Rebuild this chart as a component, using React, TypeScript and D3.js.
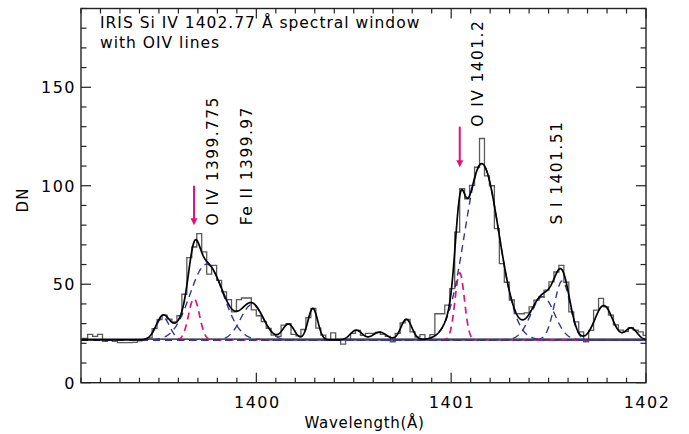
import React from 'react';
import * as d3 from 'd3';

const W = 689;
const H = 434;
const M = { left: 81, right: 646, top: 8.5, bottom: 382.7 };

const X_DOMAIN: [number, number] = [1399.1, 1402];
const Y_DOMAIN: [number, number] = [0, 190];
const X_MAJOR = [1400, 1401, 1402];
const Y_MAJOR = [0, 50, 100, 150];
const X_MINOR_STEP = 0.1;
const Y_MINOR_STEP = 10;

// observed spectrum (DN per spectral pixel)
const BIN_START = 1399.0832;
const BIN_WIDTH = 0.02546;
const counts = [
  22, 22.5, 24.5, 23.5, 24.5, 21, 21.5, 21, 20.3, 20.3,
  20.3, 20.5, 21.3, 21.8, 22.8, 27.5, 32, 34.3, 32.3, 30.9,
  34, 44.9, 63.5, 68.9, 75.7, 66.4, 55.1, 59.6, 52, 46.1,
  42.2, 36, 42.2, 43, 43, 37, 34, 31, 27.6, 24.2,
  23.5, 29.2, 30, 24.5, 23.8, 27, 33, 37.7, 27.7, 24.2,
  21.8, 25.3, 22, 19.6, 22, 25, 26.5, 24, 25, 25,
  25.5, 24.5, 23.5, 20.8, 25, 30.4, 32.1, 25.8, 23.2, 24.4,
  22.2, 24.4, 35, 35, 39.4, 47.8, 76.5, 98.5, 93.4, 100.2,
  109.4, 124, 105, 100, 78.2, 60.5, 51, 42, 35.1, 35,
  35.5, 38.5, 41.9, 43.6, 47, 51.2, 56.2, 59.6, 51, 36,
  30.9, 25.8, 20.8, 26.6, 36.8, 42.8, 38.5, 34.3, 29.4, 26.7,
  26, 28, 26.7, 25.8, 24,
];

// Gaussian fit
const BASELINE = 21.7;
const compCenter = [1399.52, 1399.68, 1399.745, 1399.978, 1400.165, 1400.29, 1400.513, 1400.633, 1400.77, 1401.044, 1401.157, 1401.47, 1401.57, 1401.783, 1401.924];
const compAmp = [11.5, 21, 38.5, 18, 8, 16, 5, 4, 10.5, 34, 89.5, 22, 30, 17.5, 6];
const compSigma = [0.035, 0.028, 0.085, 0.058, 0.03, 0.025, 0.03, 0.035, 0.028, 0.024, 0.088, 0.06, 0.04, 0.045, 0.03];
const compKind = ['navy', 'magenta', 'navy', 'navy', '', '', '', '', '', 'magenta', 'navy', 'navy', 'navy', '', ''];

// annotations
const lineLabels = ['O IV 1399.775', 'Fe II 1399.97', 'O IV 1401.2', 'S I 1401.51'];
const lineLabelWl = [1399.803, 1399.976, 1401.161, 1401.571];
const lineLabelDN = [79.8, 80, 130, 80.3];
const arrowWl = [1399.68, 1401.044];
const arrowTop = [100, 130];
const arrowTip = [79.9, 109.4];

const TITLE = ['IRIS Si IV 1402.77 Å spectral window', 'with OIV lines'];

const NAVY = '#34349a';
const MAGENTA = '#e0127f';
const FONT = 'DejaVu Sans, sans-serif';

export default function App() {
  const x = d3.scaleLinear().domain(X_DOMAIN).range([M.left, M.right]);
  const y = d3.scaleLinear().domain(Y_DOMAIN).range([M.bottom, M.top]);

  // histogram step path
  let hist = '';
  counts.forEach((c, i) => {
    const x0 = x(BIN_START + i * BIN_WIDTH);
    const x1 = x(BIN_START + (i + 1) * BIN_WIDTH);
    hist += (i === 0 ? `M${x0},${y(c)}` : `L${x0},${y(c)}`) + `L${x1},${y(c)}`;
  });

  const grid = d3.range(X_DOMAIN[0], X_DOMAIN[1] + 1e-9, 0.002);
  const gauss = (k: number, w: number) =>
    compAmp[k] * Math.exp(-((w - compCenter[k]) ** 2) / (2 * compSigma[k] ** 2));
  const fitVal = (w: number) => BASELINE + compCenter.reduce((s, _c, k) => s + gauss(k, w), 0);

  const line = d3.line<[number, number]>().x((d) => x(d[0])).y((d) => y(d[1]));
  const fitPath = line(grid.map((w) => [w, fitVal(w)]));
  const comps = compKind
    .map((kind, k) => ({ kind, k }))
    .filter((d) => d.kind !== '');

  const xMinor = d3.range(X_DOMAIN[0], X_DOMAIN[1] + 1e-6, X_MINOR_STEP);
  const yMinor = d3.range(Y_DOMAIN[0], Y_DOMAIN[1] + 1e-6, Y_MINOR_STEP);
  const isMajorX = (v: number) => X_MAJOR.some((m) => Math.abs(m - v) < 1e-6);
  const isMajorY = (v: number) => Y_MAJOR.some((m) => Math.abs(m - v) < 1e-6);

  const axisColor = '#222';

  return (
    <svg width={W} height={H} style={{ position: 'absolute', left: 0, top: 0, background: '#fff' }} fontFamily={FONT}>
      <defs>
        <clipPath id="plot">
          <rect x={M.left} y={M.top} width={M.right - M.left} height={M.bottom - M.top} />
        </clipPath>
      </defs>
      <g clipPath="url(#plot)">
        <path d={hist} fill="none" stroke="#5a5a5a" strokeWidth={1.3} />
        <line x1={M.left} x2={M.right} y1={y(BASELINE + 0.4)} y2={y(BASELINE + 0.4)} stroke="#111" strokeWidth={1.4} />
        {comps.map(({ kind, k }) => (
          <path
            key={k}
            d={line(grid.map((w) => [w, BASELINE + gauss(k, w)])) || ''}
            fill="none"
            stroke={kind === 'navy' ? NAVY : MAGENTA}
            strokeWidth={kind === 'navy' ? 1.4 : 1.7}
            strokeDasharray="7,5"
          />
        ))}
        <path d={fitPath || ''} fill="none" stroke="#000" strokeWidth={1.7} />
      </g>

      {/* frame */}
      <rect x={M.left} y={M.top} width={M.right - M.left} height={M.bottom - M.top} fill="none" stroke={axisColor} strokeWidth={1.4} />
      {xMinor.map((v, i) => {
        const len = isMajorX(v) ? 10 : 5;
        return (
          <g key={'xt' + i}>
            <line x1={x(v)} x2={x(v)} y1={M.bottom} y2={M.bottom - len} stroke={axisColor} strokeWidth={1.2} />
            <line x1={x(v)} x2={x(v)} y1={M.top} y2={M.top + len} stroke={axisColor} strokeWidth={1.2} />
          </g>
        );
      })}
      {yMinor.map((v, i) => {
        const len = isMajorY(v) ? 10 : 5.5;
        return (
          <g key={'yt' + i}>
            <line x1={M.left} x2={M.left + len} y1={y(v)} y2={y(v)} stroke={axisColor} strokeWidth={1.2} />
            <line x1={M.right} x2={M.right - len} y1={y(v)} y2={y(v)} stroke={axisColor} strokeWidth={1.2} />
          </g>
        );
      })}
      {X_MAJOR.map((v) => (
        <text key={'xl' + v} x={x(v) + 1} y={408} textAnchor="middle" fontSize={16} letterSpacing={1.5}>{v}</text>
      ))}
      {Y_MAJOR.map((v) => (
        <text key={'yl' + v} x={76} y={y(v) + 6} textAnchor="end" fontSize={16} letterSpacing={1.5}>{v}</text>
      ))}
      <text x={(M.left + M.right) / 2 + 1} y={428} textAnchor="middle" fontSize={15} letterSpacing={0.7}>Wavelength(Å)</text>
      <text transform={`translate(28,200) rotate(-90)`} textAnchor="middle" fontSize={15} letterSpacing={1}>DN</text>

      {TITLE.map((t, i) => (
        <text key={'t' + i} x={100} y={28 + i * 20} fontSize={15.5} letterSpacing={1}>{t}</text>
      ))}

      {lineLabels.map((t, i) => (
        <text key={'ll' + i} transform={`translate(${x(lineLabelWl[i])},${y(lineLabelDN[i])}) rotate(-90)`} fontSize={15.5} letterSpacing={1.4}>{t}</text>
      ))}

      {arrowWl.map((w, i) => {
        const ax = x(w);
        const y0 = y(arrowTop[i]);
        const y1 = y(arrowTip[i]);
        return (
          <g key={'ar' + i}>
            <line x1={ax} x2={ax} y1={y0} y2={y1 - 5} stroke={MAGENTA} strokeWidth={2} />
            <path d={`M${ax - 3.5},${y1 - 7}L${ax + 3.5},${y1 - 7}L${ax},${y1}Z`} fill={MAGENTA} />
          </g>
        );
      })}
    </svg>
  );
}
